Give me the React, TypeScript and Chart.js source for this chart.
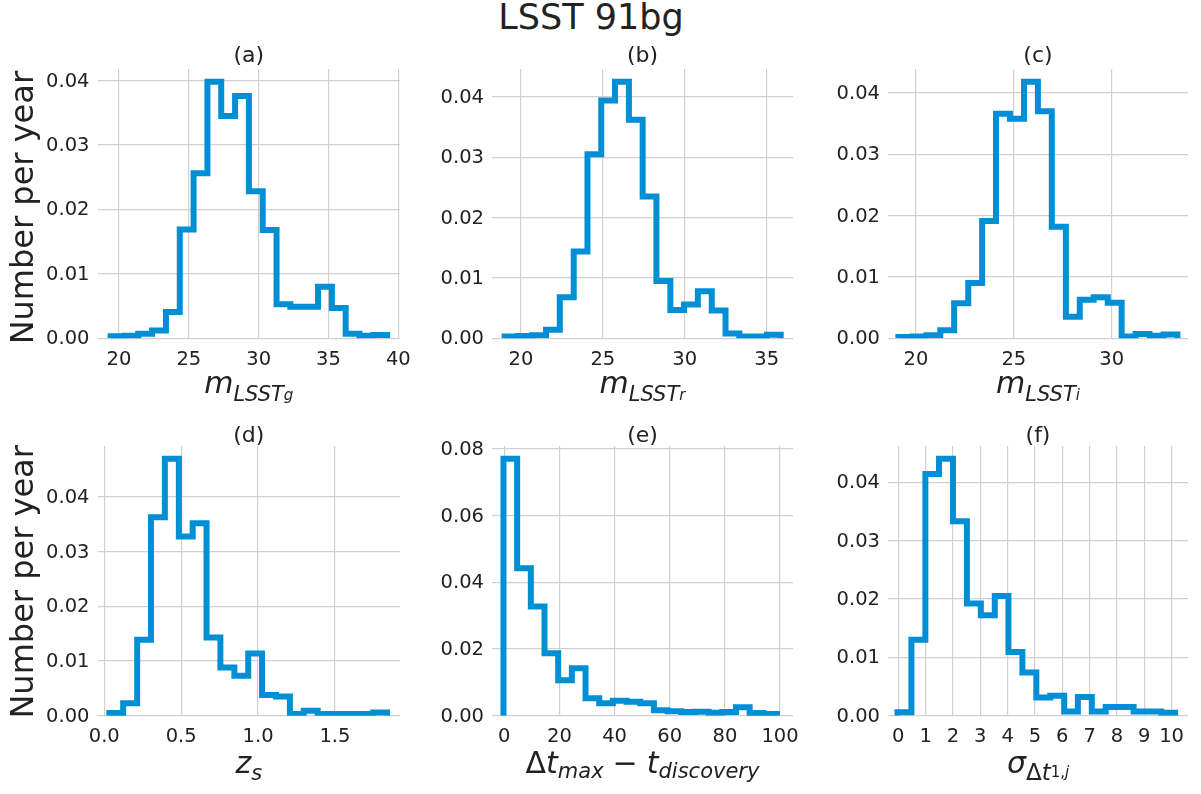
import React, { useEffect, useRef } from 'react';
import { Chart, registerables } from 'chart.js';

Chart.register(...registerables);

// ---------------- DATA ----------------
// (a) m_LSST_g
const binEdgesA = [19.40, 20.39, 21.38, 22.37, 23.36, 24.35, 25.34, 26.33, 27.32, 28.31, 29.30, 30.29, 31.28, 32.27, 33.26, 34.25, 35.24, 36.23, 37.22, 38.21, 39.20];
const ratesA = [0.0003, 0.0004, 0.0007, 0.0012, 0.0041, 0.0169, 0.0256, 0.0398, 0.0345, 0.0376, 0.0228, 0.0168, 0.0053, 0.0049, 0.0049, 0.0080, 0.0047, 0.0007, 0.0004, 0.0005];
const xTicksA = [20, 25, 30, 35, 40];
const xTickLabelsA = ['20', '25', '30', '35', '40'];

// (b) m_LSST_r
const binEdgesB = [19.00, 19.84, 20.69, 21.53, 22.37, 23.22, 24.06, 24.90, 25.74, 26.59, 27.43, 28.27, 29.12, 29.96, 30.80, 31.65, 32.49, 33.33, 34.17, 35.02, 35.86];
const ratesB = [0.0003, 0.0004, 0.0005, 0.0014, 0.0068, 0.0144, 0.0305, 0.0394, 0.0425, 0.0362, 0.0235, 0.0095, 0.0047, 0.0056, 0.0078, 0.0046, 0.0008, 0.0003, 0.0003, 0.0006];
const xTicksB = [20, 25, 30, 35];
const xTickLabelsB = ['20', '25', '30', '35'];

// (c) m_LSST_i
const binEdgesC = [19.10, 19.81, 20.53, 21.24, 21.95, 22.67, 23.38, 24.09, 24.80, 25.52, 26.23, 26.94, 27.66, 28.37, 29.08, 29.80, 30.51, 31.22, 31.93, 32.65, 33.36];
const ratesC = [0.0002, 0.0003, 0.0005, 0.0013, 0.0057, 0.0090, 0.0191, 0.0366, 0.0358, 0.0418, 0.0370, 0.0182, 0.0035, 0.0063, 0.0067, 0.0058, 0.0003, 0.0007, 0.0004, 0.0006];
const xTicksC = [20, 25, 30];
const xTickLabelsC = ['20', '25', '30'];

// (d) z_s
const binEdgesD = [0.033, 0.123, 0.214, 0.304, 0.394, 0.485, 0.575, 0.665, 0.755, 0.846, 0.936, 1.026, 1.117, 1.207, 1.297, 1.388, 1.478, 1.568, 1.658, 1.749, 1.839];
const ratesD = [0.0005, 0.0023, 0.0139, 0.0363, 0.0470, 0.0328, 0.0352, 0.0143, 0.0088, 0.0073, 0.0114, 0.0038, 0.0035, 0.0003, 0.0009, 0.0003, 0.0003, 0.0003, 0.0003, 0.0006];
const xTicksD = [0, 0.5, 1.0, 1.5];
const xTickLabelsD = ['0.0', '0.5', '1.0', '1.5'];

// (e) Δt_max − t_discovery
const binEdgesE = [-0.30, 4.66, 9.62, 14.58, 19.54, 24.50, 29.46, 34.42, 39.38, 44.34, 49.30, 54.26, 59.22, 64.18, 69.14, 74.10, 79.06, 84.02, 88.98, 93.94, 98.90];
const ratesE = [0.0770, 0.0442, 0.0327, 0.0187, 0.0106, 0.0142, 0.0052, 0.0037, 0.0045, 0.0042, 0.0037, 0.0016, 0.0013, 0.0011, 0.0012, 0.0009, 0.0011, 0.0025, 0.0008, 0.0005];
const xTicksE = [0, 20, 40, 60, 80, 100];
const xTickLabelsE = ['0', '20', '40', '60', '80', '100'];

// (f) σ_Δt
const binEdgesF = [-0.03, 0.48, 0.99, 1.49, 2.00, 2.51, 3.02, 3.53, 4.03, 4.54, 5.05, 5.56, 6.07, 6.57, 7.08, 7.59, 8.10, 8.61, 9.11, 9.62, 10.13];
const ratesF = [0.0006, 0.0130, 0.0414, 0.0440, 0.0333, 0.0192, 0.0172, 0.0205, 0.0109, 0.0074, 0.0031, 0.0034, 0.0007, 0.0032, 0.0007, 0.0015, 0.0015, 0.0007, 0.0007, 0.0005];
const xTicksF = [0, 1, 2, 3, 4, 5, 6, 7, 8, 9, 10];
const xTickLabelsF = ['0', '1', '2', '3', '4', '5', '6', '7', '8', '9', '10'];

const yTicksSmall = [0, 0.01, 0.02, 0.03, 0.04];
const yTickLabelsSmall = ['0.00', '0.01', '0.02', '0.03', '0.04'];
const yTicksLarge = [0, 0.02, 0.04, 0.06, 0.08];
const yTickLabelsLarge = ['0.00', '0.02', '0.04', '0.06', '0.08'];

const panelTitles = ['(a)', '(b)', '(c)', '(d)', '(e)', '(f)'];
const figureTitle = 'LSST 91bg';
const yAxisTitle = 'Number per year';

// ---------------- STYLE ----------------
const FONT = "'DejaVu Sans', 'Liberation Sans', sans-serif";
const TEXT = '#222222';
const GRID = '#d0d0d0';
const LINE = '#008fd5';

type Run = { t: string; s: number; dy?: number; it?: boolean; gap?: number };

interface PanelCfg {
  title: string;
  edges: number[];
  values: number[];
  xTicks: number[];
  xLabels: string[];
  yTicks: number[];
  yLabels: string[];
  xMin: number;
  xMax: number;
  runs: Run[];
  left: number;
  top: number;
  w: number;
  h: number;
  yAxisW: number;
  xAxisH: number;
  padRight: number;
  titleTop: number;
  titleBottom: number;
  labelBaseline: number;
  yTitle: boolean;
  yTitleDy: number;
}

const mathLabelPlugin = {
  id: 'mathLabel',
  afterDraw(chart: any, _args: any, opts: any) {
    const { ctx, chartArea } = chart;
    if (!chartArea) return;
    const runs: Run[] = opts.runs || [];
    ctx.save();
    ctx.fillStyle = TEXT;
    ctx.textAlign = 'left';
    ctx.textBaseline = 'alphabetic';
    const fontOf = (r: Run) => `${r.it ? 'italic ' : ''}${r.s}px ${FONT}`;
    const widths = runs.map((r) => {
      ctx.font = fontOf(r);
      return ctx.measureText(r.t).width;
    });
    const total = widths.reduce((a, b) => a + b, 0) + runs.reduce((a, r) => a + (r.gap || 0), 0);
    let x = (chartArea.left + chartArea.right) / 2 - total / 2;
    const y = chartArea.bottom + opts.baseline;
    runs.forEach((r, i) => {
      x += r.gap || 0;
      ctx.font = fontOf(r);
      ctx.fillText(r.t, x, y + (r.dy || 0));
      x += widths[i];
    });
    if (opts.yTitle) {
      ctx.translate(opts.yTitleX, (chartArea.top + chartArea.bottom) / 2 + opts.yTitleDy);
      ctx.rotate(-Math.PI / 2);
      ctx.textAlign = 'center';
      ctx.textBaseline = 'alphabetic';
      ctx.font = `32px ${FONT}`;
      ctx.fillText(opts.yTitle, 0, 0);
    }
    ctx.restore();
  },
};

function buildOutline(edges: number[], values: number[]) {
  const pts: { x: number; y: number }[] = [{ x: edges[0], y: 0 }];
  values.forEach((v, i) => {
    pts.push({ x: edges[i], y: v });
    pts.push({ x: edges[i + 1], y: v });
  });
  pts.push({ x: edges[edges.length - 1], y: 0 });
  return pts;
}

function Panel({ cfg }: { cfg: PanelCfg }) {
  const ref = useRef<HTMLCanvasElement>(null);
  useEffect(() => {
    const canvas = ref.current;
    if (!canvas) return;
    const yMax = Math.max(...cfg.values) * 1.05;
    const tickFont = { family: FONT, size: 19.5 };
    const chart = new Chart(canvas, {
      type: 'line',
      data: {
        datasets: [
          {
            data: buildOutline(cfg.edges, cfg.values),
            borderColor: LINE,
            borderWidth: 6,
            pointRadius: 0,
            pointHoverRadius: 0,
            fill: false,
            tension: 0,
            borderJoinStyle: 'miter',
            borderCapStyle: 'butt',
            clip: 0,
          } as any,
        ],
      },
      plugins: [mathLabelPlugin],
      options: {
        responsive: false,
        animation: false,
        events: [],
        layout: { padding: { left: 0, top: 0, right: cfg.padRight, bottom: 0 } },
        scales: {
          x: {
            type: 'linear',
            min: cfg.xMin,
            max: cfg.xMax,
            afterBuildTicks: (s: any) => {
              s.ticks = cfg.xTicks.map((v) => ({ value: v }));
            },
            afterFit: (s: any) => {
              s.height = cfg.xAxisH;
            },
            grid: { color: GRID, lineWidth: 1.2, drawTicks: false },
            border: { display: false },
            ticks: {
              autoSkip: false,
              maxRotation: 0,
              minRotation: 0,
              padding: 10,
              color: TEXT,
              font: tickFont,
              callback: (_v: any, i: number) => cfg.xLabels[i],
            },
          },
          y: {
            type: 'linear',
            min: 0,
            max: yMax,
            afterBuildTicks: (s: any) => {
              s.ticks = cfg.yTicks.map((v) => ({ value: v }));
            },
            afterFit: (s: any) => {
              s.width = cfg.yAxisW;
            },
            grid: { color: GRID, lineWidth: 1.2, drawTicks: false },
            border: { display: false },
            ticks: {
              autoSkip: false,
              padding: 8,
              labelOffset: 1,
              color: TEXT,
              font: tickFont,
              callback: (_v: any, i: number) => cfg.yLabels[i],
            },
          },
        },
        plugins: {
          legend: { display: false },
          tooltip: { enabled: false },
          title: {
            display: true,
            text: cfg.title,
            fullSize: false,
            color: TEXT,
            font: { family: FONT, size: 22, weight: 'normal', lineHeight: 0.8 },
            padding: { top: cfg.titleTop, bottom: cfg.titleBottom },
          },
          mathLabel: {
            runs: cfg.runs,
            baseline: cfg.labelBaseline,
            yTitle: cfg.yTitle ? yAxisTitle : null,
            yTitleX: 33,
            yTitleDy: cfg.yTitleDy,
          },
        } as any,
      },
    } as any);
    return () => chart.destroy();
  }, [cfg]);
  return (
    <canvas
      ref={ref}
      width={cfg.w}
      height={cfg.h}
      style={{ position: 'absolute', left: cfg.left, top: cfg.top, width: cfg.w, height: cfg.h }}
    />
  );
}

// layout per column / row
const COLS = [
  { left: 0, w: 430, yAxisW: 97.5, padRight: 30 },
  { left: 430, w: 393, yAxisW: 62, padRight: 30 },
  { left: 823, w: 378, yAxisW: 65, padRight: 13 },
];
const ROWS = [
  { top: 36, h: 384, titleTop: 11.2, titleBottom: 4.2, xAxisH: 81.7, labelBaseline: 55, yTitleDy: 4 },
  { top: 413, h: 381, titleTop: 14.2, titleBottom: 1.2, xAxisH: 78.3, labelBaseline: 57.6, yTitleDy: 1 },
];

const mRuns = (band: string): Run[] => [
  { t: 'm', s: 30, it: true },
  { t: 'LSST', s: 21, dy: 8, it: true },
  { t: band, s: 15, dy: 7, it: true },
];

function makeCfg(
  idx: number,
  edges: number[],
  values: number[],
  xTicks: number[],
  xLabels: string[],
  yTicks: number[],
  yLabels: string[],
  xMin: number,
  xMax: number,
  runs: Run[]
): PanelCfg {
  const c = COLS[idx % 3];
  const r = ROWS[Math.floor(idx / 3)];
  return {
    title: panelTitles[idx],
    edges,
    values,
    xTicks,
    xLabels,
    yTicks,
    yLabels,
    xMin,
    xMax,
    runs,
    left: c.left,
    top: r.top,
    w: c.w,
    h: r.h,
    yAxisW: c.yAxisW,
    xAxisH: r.xAxisH,
    padRight: c.padRight,
    titleTop: r.titleTop,
    titleBottom: r.titleBottom,
    labelBaseline: r.labelBaseline,
    yTitle: idx % 3 === 0,
    yTitleDy: r.yTitleDy,
  };
}

const PANELS: PanelCfg[] = [
  makeCfg(0, binEdgesA, ratesA, xTicksA, xTickLabelsA, yTicksSmall, yTickLabelsSmall, 18.46, 40.12, mRuns('g')),
  makeCfg(1, binEdgesB, ratesB, xTicksB, xTickLabelsB, yTicksSmall, yTickLabelsSmall, 18.23, 36.61, mRuns('r')),
  makeCfg(2, binEdgesC, ratesC, xTicksC, xTickLabelsC, yTicksSmall, yTickLabelsSmall, 18.57, 33.9, mRuns('i')),
  makeCfg(3, binEdgesD, ratesD, xTicksD, xTickLabelsD, yTicksSmall, yTickLabelsSmall, -0.044, 1.923, [
    { t: 'z', s: 30, it: true },
    { t: 's', s: 21, dy: 6.7, it: true },
  ]),
  makeCfg(4, binEdgesE, ratesE, xTicksE, xTickLabelsE, yTicksLarge, yTickLabelsLarge, -4.46, 104.7, [
    { t: 'Δ', s: 30 },
    { t: 't', s: 30, it: true },
    { t: 'max', s: 21, dy: 5, it: true },
    { t: '−', s: 30, gap: 9 },
    { t: 't', s: 30, it: true, gap: 9 },
    { t: 'discovery', s: 21, dy: 5, it: true },
  ]),
  makeCfg(5, binEdgesF, ratesF, xTicksF, xTickLabelsF, yTicksSmall, yTickLabelsSmall, -0.377, 10.6, [
    { t: 'σ', s: 30, it: true },
    { t: 'Δ', s: 23, dy: 6.7 },
    { t: 't', s: 23, dy: 6.7, it: true },
    { t: '1,', s: 15, dy: 4 },
    { t: 'j', s: 15, dy: 4, it: true },
  ]),
];

export default function App() {
  return (
    <div
      style={{
        position: 'absolute',
        left: 0,
        top: 0,
        width: 1201,
        height: 794,
        background: '#ffffff',
        overflow: 'hidden',
      }}
    >
      <div
        style={{
          position: 'absolute',
          left: 391,
          top: 0,
          width: 400,
          textAlign: 'center',
          fontFamily: FONT,
          fontSize: 35,
          lineHeight: '35px',
          color: TEXT,
          whiteSpace: 'nowrap',
        }}
      >
        {figureTitle}
      </div>
      {PANELS.map((p, i) => (
        <Panel key={i} cfg={p} />
      ))}
    </div>
  );
}
